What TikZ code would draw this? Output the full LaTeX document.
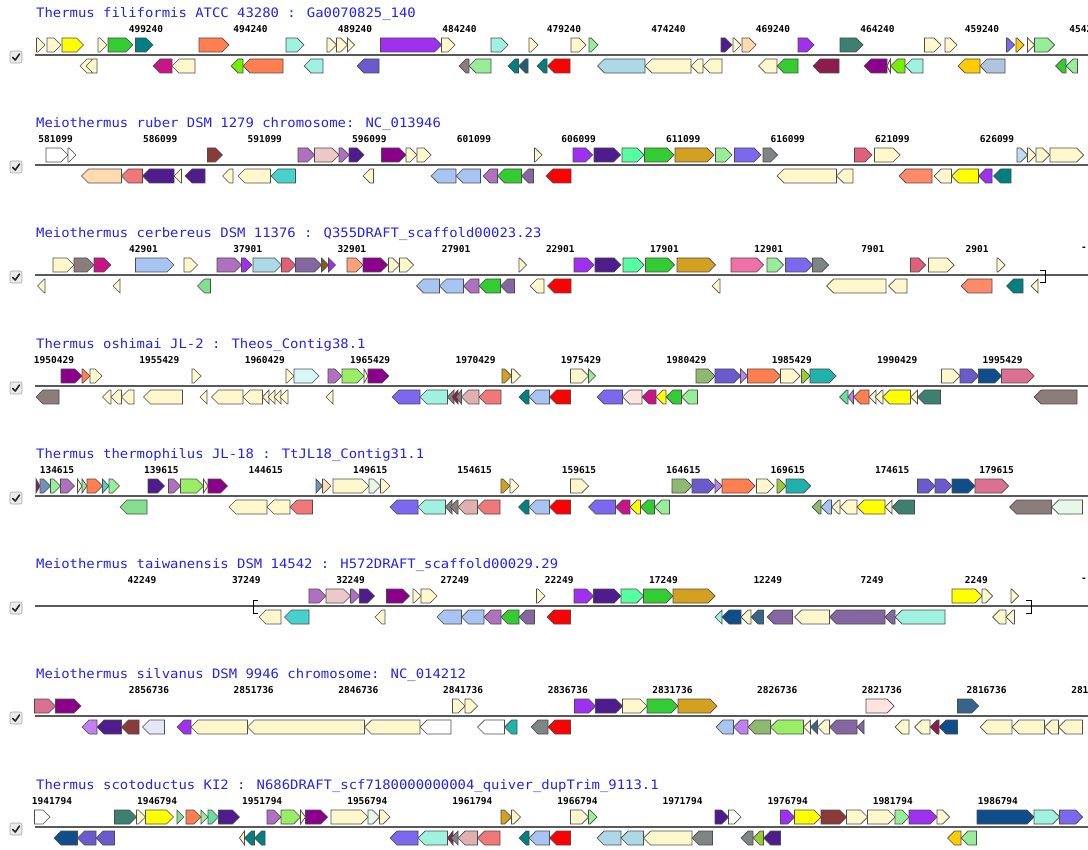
\documentclass[tikz,border=0pt]{standalone}
\usepackage{fontspec}
\newfontfamily\titlefont{DejaVu Sans Mono}[FakeStretch=1.07]
\newfontfamily\tickfont{DejaVu Sans Mono}
\definecolor{titleblue}{HTML}{2424F0}
\definecolor{gcream}{HTML}{FFF8CC}
\definecolor{gwhite}{HTML}{FFFFFF}
\definecolor{gyellow}{HTML}{FFFF00}
\definecolor{ggold}{HTML}{FFCC00}
\definecolor{glime}{HTML}{33CC33}
\definecolor{glgreen}{HTML}{98EE98}
\definecolor{gmgreen}{HTML}{85DD90}
\definecolor{glawn}{HTML}{77EE00}
\definecolor{glawnb}{HTML}{99EE66}
\definecolor{gdsea}{HTML}{8FB870}
\definecolor{gyg}{HTML}{99CC33}
\definecolor{gaqgreen}{HTML}{66E0A0}
\definecolor{gspring}{HTML}{55FFA0}
\definecolor{gteal}{HTML}{008080}
\definecolor{glsea}{HTML}{20B2AA}
\definecolor{gturq}{HTML}{48D1CC}
\definecolor{gaqua}{HTML}{A0F2E0}
\definecolor{gseagreen}{HTML}{3D8070}
\definecolor{gdteal}{HTML}{205E70}
\definecolor{gcoral}{HTML}{FF7F50}
\definecolor{glsalmon}{HTML}{FFA07A}
\definecolor{gsalmon}{HTML}{FF8A6A}
\definecolor{glcoral}{HTML}{F07878}
\definecolor{grosy}{HTML}{E0B0B0}
\definecolor{gpink}{HTML}{ECC8C8}
\definecolor{gmisty}{HTML}{FFE2E2}
\definecolor{gred}{HTML}{FF0000}
\definecolor{gbrown}{HTML}{8B3A3A}
\definecolor{gmaroon}{HTML}{8B1C4C}
\definecolor{gmvred}{HTML}{C71585}
\definecolor{gpvred}{HTML}{DB7093}
\definecolor{grose}{HTML}{E0607A}
\definecolor{ghotpink}{HTML}{F070A8}
\definecolor{gdmag}{HTML}{8B008B}
\definecolor{gviolet}{HTML}{A030F0}
\definecolor{glpurple}{HTML}{C080F0}
\definecolor{gorchid}{HTML}{B070C0}
\definecolor{gpurgray}{HTML}{8466A0}
\definecolor{gindigo}{HTML}{4E1C8C}
\definecolor{gslate}{HTML}{6A5ACD}
\definecolor{gmslate}{HTML}{7B68EE}
\definecolor{glavender}{HTML}{E6E6FA}
\definecolor{gcorn}{HTML}{A8C4F2}
\definecolor{glblue}{HTML}{ADD8E6}
\definecolor{gpblue}{HTML}{C0DCF4}
\definecolor{gsteel}{HTML}{B0C4DE}
\definecolor{gsteelblue}{HTML}{7090C0}
\definecolor{gsteelb}{HTML}{36648B}
\definecolor{gdblue}{HTML}{104E8B}
\definecolor{ggolden}{HTML}{D4A020}
\definecolor{golive}{HTML}{806010}
\definecolor{ggray}{HTML}{7F8585}
\definecolor{gtaupe}{HTML}{8B7D7B}
\definecolor{gpeach}{HTML}{FFDAB0}
\definecolor{glcyan}{HTML}{D8F8F8}
\definecolor{gmint}{HTML}{E8F8E8}

% gene on the upper strand: baseline, start, end, colour
\newcommand{\fwdgene}[4]{%
  \pgfmathsetmacro{\headx}{max(#2,#3-7)}%
  \filldraw[genebox, fill=#4] (#2,#1-17) -- (\headx,#1-17) -- (#3,#1-10) -- (\headx,#1-3) -- (#2,#1-3) -- cycle;}
% gene on the lower strand: baseline, start (tip), end, colour
\newcommand{\revgene}[4]{%
  \pgfmathsetmacro{\headx}{min(#3,#2+7)}%
  \filldraw[genebox, fill=#4] (#3,#1+4) -- (\headx,#1+4) -- (#2,#1+11) -- (\headx,#1+18) -- (#3,#1+18) -- cycle;}

\begin{document}
\begin{tikzpicture}[x=1pt, y=-1pt,
  genebox/.style={draw=black!70, line width=0.7pt},
  titletext/.style={anchor=west, inner sep=0pt, text=titleblue, font=\titlefont\fontsize{13}{15}\selectfont},
  ticklabel/.style={inner sep=0pt, font=\tickfont\bfseries\fontsize{9.5}{11}\selectfont},
  axisline/.style={draw=black!65, line width=1.6pt},
  checkbox/.style={draw=black!35, fill=black!8, rounded corners=2pt, line width=0.6pt},
  checkmark/.style={draw=black!85, line width=1.6pt, line cap=round, line join=round},
  bracket/.style={draw=black, line width=0.8pt}]
  \useasboundingbox (0,0) rectangle (1088,850);
  \clip (0,0) rectangle (1088,850);
  \fill[white] (0,0) rectangle (1088,850);

  % checkboxes and axis lines
  \foreach \B in {55,165,275,386,496,606,716,827} {
    \draw[checkbox] (10,\B-4) rectangle (22,\B+8);
    \draw[checkmark] (12.8,\B+2.5) -- (15.3,\B+5) -- (19.5,\B-1);
    \draw[axisline] (35,\B) -- (1088,\B);
  }

  % Track 1
  \node[titletext] (title1) at (36,14) {Thermus filiformis ATCC 43280 : Ga0070825\_140};
  \foreach \lab [count=\i from 0] in {499240,494240,489240,484240,479240,474240,469240,464240,459240,454240}
    \node[ticklabel] (tick1-\i) at ({146+104.5*\i},29) {\lab};
  \foreach \a/\b/\c in {36.5/45/gcream, 47/61/gcream, 62/83.5/gyellow, 98/107/gcream, 108/133/glime, 135.5/153/gteal,
      199/229/gcoral, 286/304/gaqua, 327/336.5/gcream, 336.5/347.5/gcream, 347.5/354.5/gcream, 380.5/441.5/gviolet,
      441.5/455/gcream, 491/508/gaqua, 529/538/gcream, 571/586/gcream, 589/598/glgreen, 721/732/gindigo, 733/741/gcream,
      742/756/gpeach, 798/814/gviolet, 840/863/gseagreen, 924.5/941/gcream, 945/957/gcream, 1006.5/1014.5/gmslate,
      1016/1024/ggold, 1027.5/1034.5/gcream, 1034.5/1054.5/glgreen}
    \fwdgene{55}{\a}{\b}{\c};
  \foreach \a/\b/\c in {80/92/gcream, 86/97/gcream, 153/172/gmvred, 172/195/gcream, 231/243/glawn, 243/283/gcoral,
      304/323/gaqua, 357/379/gslate, 459/469/gtaupe, 469/491/glgreen, 508/518.5/gteal, 518.5/528/gdteal, 537/547/gteal,
      547.5/570/gred, 597.5/645/glblue, 645/691/gcream, 691/703/gcream, 703/722/gcream, 758.5/777/gcream, 777/798/glime,
      813/839/gmaroon, 864/887/gdmag, 887/890.5/gcream, 890.5/905/glawn, 905/923/gaqua, 958/980/ggold, 980/1005/gsteel,
      1055.5/1066/glime, 1066/1077.5/glgreen}
    \revgene{55}{\a}{\b}{\c};

  % Track 2
  \node[titletext] (title2) at (36,124) {Meiothermus ruber DSM 1279 chromosome: NC\_013946};
  \foreach \lab [count=\i from 0] in {581099,586099,591099,596099,601099,606099,611099,616099,621099,626099}
    \node[ticklabel] (tick2-\i) at ({55.6+104.6*\i},139) {\lab};
  \foreach \a/\b/\c in {46/68/gwhite, 68/76/gwhite, 207.5/222.5/gbrown, 298/314.5/gorchid, 314.5/339/gpink, 339/349/gorchid,
      349/364/gindigo, 381.5/406/gdmag, 406/417/gcream, 417/431/gcream, 534.5/542/gcream, 573/592.5/gviolet,
      594/620.5/gindigo, 622/644/gspring, 644.5/674/glime, 675/714/ggolden, 715.5/732/glgreen, 734.5/761/gmslate,
      763/777.5/ggray, 854.5/872/grose, 874.5/900/gcream, 1017/1027.5/gpblue, 1027.5/1036/gcream, 1036/1049.5/gcream,
      1050/1083.5/gcream}
    \fwdgene{165}{\a}{\b}{\c};
  \foreach \a/\b/\c in {81.5/121.5/gpeach, 121.5/142.5/glcoral, 142.5/174/gindigo, 174/181.5/gcream, 185/205/gindigo,
      222.5/233/gcream, 238/270.5/gcream, 271/295.5/gturq, 363/373.5/gcream, 431/456/gcorn, 456/480.5/gcorn,
      483/497.5/gorchid, 497.5/521.5/glime, 521.5/533.5/gpurgray, 546/571/gred, 777/836.5/gcream, 836.5/853/gcream,
      899/932/gsalmon, 934/951.5/gcream, 951.5/978.5/gyellow, 978.5/992/gviolet, 993.5/1011/gteal}
    \revgene{165}{\a}{\b}{\c};

  % Track 3
  \node[titletext] (title3) at (36,234) {Meiothermus cerbereus DSM 11376 : Q355DRAFT\_scaffold00023.23};
  \foreach \lab [count=\i from 0] in {42901,37901,32901,27901,22901,17901,12901,7901,2901}
    \node[ticklabel] (tick3-\i) at ({143.5+104.2*\i},249) {\lab};
  \node[ticklabel] (tick3-end) at (1084,249) {-};
  \foreach \a/\b/\c in {53/74/gcream, 74/94/gtaupe, 94/111/gmvred, 135.5/174/gcorn, 184/197.5/gcream, 217/241.5/gorchid,
      241.5/252/gviolet, 253/281.5/glblue, 281.5/295.5/grose, 295.5/321.5/gpurgray, 321.5/328.5/golive, 328.5/335.5/gviolet,
      347/363/glsalmon, 363/387.5/gdmag, 388.5/399.5/gcream, 399.5/413.5/gcream, 519/526.5/gcream, 574/594/gviolet,
      595/621/gindigo, 623/644/gspring, 645.5/674.5/glime, 677/715.5/ggolden, 731/763.5/ghotpink, 767/783.5/glgreen,
      785.5/812.5/gmslate, 812.5/828.5/ggray, 910.5/925.5/grose, 928.5/954/gcream, 997/1005/gcream}
    \fwdgene{275}{\a}{\b}{\c};
  \foreach \a/\b/\c in {37.5/45/gcream, 113/120/gcream, 197.5/210.5/gmgreen, 416.5/439.5/gcorn, 439.5/463.5/gcorn,
      463.5/479/gorchid, 479/500.5/glime, 500.5/514.5/gpurgray, 530/544/gcream, 547.5/571/gred, 712/720/gcream,
      826.5/886/gcream, 888.5/907/gcream, 961/992/gsalmon, 1006.5/1023/gteal, 1031/1038/gcream}
    \revgene{275}{\a}{\b}{\c};
  \draw[bracket] (1040,270) -- (1045,270) -- (1045,282) -- (1040,282);

  % Track 4
  \node[titletext] (title4) at (36,345) {Thermus oshimai JL-2 : Theos\_Contig38.1};
  \foreach \lab [count=\i from 0] in {1950429,1955429,1960429,1965429,1970429,1975429,1980429,1985429,1990429,1995429}
    \node[ticklabel] (tick4-\i) at ({54+105.4*\i},360) {\lab};
  \foreach \a/\b/\c in {61/82/gdmag, 82/90/gcoral, 90/102/gcream, 192/201/gcream, 286/294/gcream, 294/319/glcyan,
      328/342/gorchid, 342/364/glawnb, 364/368/gcream, 368/389/gdmag, 502/511.5/ggolden, 511.5/520.5/gcream,
      570.5/588.5/gcream, 588.5/595.5/glgreen, 696/715/gdsea, 715/740.5/gslate, 740.5/747.5/glpurple, 747.5/780.5/gcoral,
      780.5/800/gcream, 801.5/810/gyg, 810/836/glsea, 941.5/960/gcream, 960/978.5/gslate, 978.5/1001.5/gdblue,
      1001.5/1034/gpvred}
    \fwdgene{386}{\a}{\b}{\c};
  \foreach \a/\b/\c in {36/59/gtaupe, 102.5/111/gcream, 111/121.5/gcream, 121.5/134/gcream, 143.5/182.5/gcream,
      200/207/gcream, 211.5/243/gcream, 243/262.5/gcream, 262.5/269/gcream, 268/275/gcream, 274/281/gcream,
      280/288/gcream, 326/333/gcream, 392/420/gmslate, 420/447.5/gaqua, 447.5/454/gtaupe, 452/458/gmaroon,
      456/461.5/gtaupe, 461.5/479/grosy, 479/501/glcoral, 519/529/gteal, 529/549.5/gcorn, 549.5/570.5/gred,
      597/622.5/gmslate, 622.5/642/gmisty, 642/656/gmvred, 656/666/gyellow, 666/681.5/glime, 681.5/697.5/glgreen,
      839.5/848/gaqgreen, 848/853.5/glpurple, 853.5/869/gcoral, 869/876/gcream, 875/883/gcream, 882.5/910.5/gyellow,
      910.5/917.5/gcream, 917.5/940.5/gseagreen, 1034/1077/gtaupe}
    \revgene{386}{\a}{\b}{\c};

  % Track 5
  \node[titletext] (title5) at (36,455) {Thermus thermophilus JL-18 : TtJL18\_Contig31.1};
  \foreach \lab [count=\i from 0] in {134615,139615,144615,149615,154615,159615,164615,169615,174615,179615}
    \node[ticklabel] (tick5-\i) at ({57+104.4*\i},470) {\lab};
  \foreach \a/\b/\c in {36/40/gmaroon, 40/50.5/gsteelblue, 50.5/60.5/glgreen, 60.5/74.5/gorchid, 77.5/82/gcream,
      82/87/glgreen, 87/102.5/gcoral, 102.5/109/gturq, 109/119.5/glgreen, 148/164.5/gindigo, 168.5/180.5/gorchid,
      180.5/203.5/glawnb, 203.5/208/gcream, 208/227.5/gdmag, 316/322.5/gsteelblue, 322.5/331/gpeach, 333/369/gcream,
      369/380.5/gmint, 380.5/390/gcream, 501/510/ggolden, 510/519/gcream, 570.5/588.5/gcream, 672/692/gdsea,
      692/715/gslate, 715/722/glpurple, 722/755/gcoral, 756.5/774/gcream, 777/786/gyg, 786/810.5/glsea,
      917.5/935/gslate, 935/952/gslate, 952/975/gdblue, 975/1008.5/gpvred}
    \fwdgene{496}{\a}{\b}{\c};
  \foreach \a/\b/\c in {120/147/gmgreen, 229/267/gcream, 267/290/gcream, 290/312.5/glcoral, 390/418/gmslate,
      418/445.5/gaqua, 445.5/452/ggray, 450/458/gtaupe, 458/477.5/grosy, 477.5/500/glcoral, 518.5/529/gteal,
      529/549.5/gcorn, 549.5/570.5/gred, 588.5/615.5/gmslate, 615.5/630/gmvred, 630/640.5/gyellow, 640.5/654.5/glime,
      654.5/669.5/glgreen, 812/821/gdsea, 821/831.5/gcorn, 831.5/840/gcream, 840/857/gcream, 857/885/gyellow,
      885/892/gcream, 892/914.5/gseagreen, 1009.5/1051.5/gtaupe, 1051.5/1082.5/gmint}
    \revgene{496}{\a}{\b}{\c};

  % Track 6
  \node[titletext] (title6) at (36,565) {Meiothermus taiwanensis DSM 14542 : H572DRAFT\_scaffold00029.29};
  \foreach \lab [count=\i from 0] in {42249,37249,32249,27249,22249,17249,12249,7249,2249}
    \node[ticklabel] (tick6-\i) at ({142+104.3*\i},580) {\lab};
  \node[ticklabel] (tick6-end) at (1084,580) {-};
  \foreach \a/\b/\c in {309/326/gorchid, 326/350.5/gpink, 350.5/359.5/gorchid, 359.5/374.5/gindigo, 386.5/409.5/gdmag,
      413/421/gcream, 421/437/gcream, 536.5/545/gcream, 574/593.5/gviolet, 593.5/621/gindigo, 621/643.5/gspring,
      643.5/673/glime, 673/715/ggolden, 952/982/gyellow, 982/992.5/gcream, 1011/1018.5/gcream}
    \fwdgene{606}{\a}{\b}{\c};
  \foreach \a/\b/\c in {259/281/gcream, 284.5/309/gturq, 375/385/gcream, 437/461.5/gcorn, 461.5/484/gcorn,
      484/501/gorchid, 501/519/glime, 519/534.5/gpurgray, 547/570.5/gred, 715/722/gaqua, 722/741/gdblue,
      741/751/gcream, 751/763.5/gsteelb, 767/792.5/gpurgray, 794.5/829.5/gcream, 829.5/885/gpurgray,
      885/895/gpurgray, 895/945/gaqua, 992.5/1006/gcream, 1006/1014.5/gcream}
    \revgene{606}{\a}{\b}{\c};
  \draw[bracket] (258,600) -- (253,600) -- (253,613) -- (258,613);
  \draw[bracket] (1026,600) -- (1031,600) -- (1031,613) -- (1026,613);

  % Track 7
  \node[titletext] (title7) at (36,675) {Meiothermus silvanus DSM 9946 chromosome: NC\_014212};
  \foreach \lab [count=\i from 0] in {2856736,2851736,2846736,2841736,2836736,2831736,2826736,2821736,2816736,2811736}
    \node[ticklabel] (tick7-\i) at ({149+104.7*\i},690) {\lab};
  \foreach \a/\b/\c in {34.5/55.5/gpvred, 55.5/81/gdmag, 452.5/465/gcream, 465/477.5/gcream, 574.5/595.5/gviolet,
      595.5/622.5/gindigo, 622.5/647/gcream, 647/678/glime, 678/717/ggolden, 866/894/gmisty, 957.5/978.5/gsteelb}
    \fwdgene{716}{\a}{\b}{\c};
  \foreach \a/\b/\c in {82/97/glpurple, 97/121.5/gindigo, 121.5/139/gbrown, 142.5/164.5/glavender, 177/191/gviolet,
      191/247.5/gcream, 247.5/364.5/gcream, 364.5/420/gcream, 420/451/gwhite, 477.5/504.5/gwhite, 504.5/517/glsea,
      531/548/ggray, 548/570.5/gred, 716/733.5/gcorn, 733.5/748/glpurple, 748/770.5/gdsea, 770.5/803.5/glawnb,
      803.5/810.5/gcream, 810.5/817.5/gsteelb, 817.5/829.5/gcream, 829.5/857/gpurgray, 857/864/gpurgray,
      895/909/gcream, 914.5/930/gcream, 930/939/gmaroon, 939/957.5/gdblue, 980/1012/gcream, 1012/1044.5/gcream,
      1044.5/1058.5/gcream, 1058.5/1082.5/gcream}
    \revgene{716}{\a}{\b}{\c};

  % Track 8
  \node[titletext] (title8) at (36,786) {Thermus scotoductus KI2 : N686DRAFT\_scf7180000000004\_quiver\_dupTrim\_9113.1};
  \foreach \lab [count=\i from 0] in {1941794,1946794,1951794,1956794,1961794,1966794,1971794,1976794,1981794,1986794}
    \node[ticklabel] (tick8-\i) at ({52+105.1*\i},801) {\lab};
  \foreach \a/\b/\c in {34.5/50/gwhite, 114.5/136.5/gseagreen, 136.5/145.5/gcream, 145.5/173.5/gyellow, 177/184/gmgreen,
      186/201/gcoral, 201/208/glgreen, 208/218.5/gaqgreen, 218.5/239.5/gindigo, 267/281/gorchid, 281/300.5/glawnb,
      300.5/305.5/gcream, 305.5/327.5/gdmag, 331/368/gcream, 368/379.5/gmint, 379.5/390/gcream, 501/511.5/ggolden,
      511.5/520.5/gcream, 570.5/588.5/gcream, 588.5/597/glgreen, 715/728.5/gindigo, 728.5/741/gwhite,
      780.5/794.5/gviolet, 794.5/821/gyellow, 821/846.5/gbrown, 846.5/867.5/gcream, 867.5/895/gcream, 895/909/glgreen,
      909/937/gviolet, 937/949.5/gcream, 977/1034/gdblue, 1034/1059.5/gaqua, 1059.5/1082.5/gmslate}
    \fwdgene{827}{\a}{\b}{\c};
  \foreach \a/\b/\c in {54/77.5/gdblue, 77.5/96/gslate, 96/114.5/gslate, 239.5/244.5/gcream, 244.5/254.5/gteal,
      254.5/265/gteal, 390/418/gmslate, 418/447.5/gaqua, 447.5/453/gmaroon, 451/458/ggray, 458/477.5/grosy,
      477.5/500/glcoral, 519/529/gteal, 529/549.5/gcorn, 549.5/570.5/gred, 597/621/glblue, 621/643.5/glblue,
      643.5/692/gcream, 692/712.5/ggray, 741/753/ggray, 753/763.5/gyg, 763.5/780.5/gindigo, 947.5/961/ggold,
      961/976.5/glgreen}
    \revgene{827}{\a}{\b}{\c};
\end{tikzpicture}
\end{document}
